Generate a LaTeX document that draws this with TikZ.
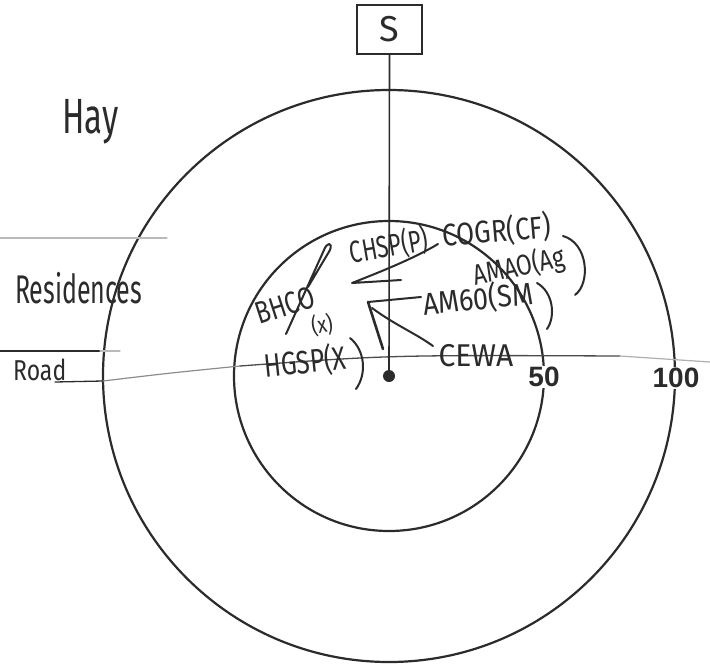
\documentclass[tikz,border=0pt]{standalone}
\usepackage{fontspec}
\usepackage{graphicx}
\newfontfamily\numfont{Liberation Sans}
\newfontfamily\handfont{Fira Sans}
\definecolor{inkc}{HTML}{2B2B2B}
\definecolor{roadc}{HTML}{8C8C8C}
\newcommand{\hwtxt}[3]{\fontsize{#1}{#1}\selectfont\scalebox{1}[#2]{#3}}
\tikzset{
  ring/.style={draw=inkc, line width=2.2pt},
  ink/.style={draw=inkc, line width=2pt, line cap=round, line join=round},
  thinline/.style={draw=inkc, line width=1.3pt, line cap=round},
  faint/.style={draw=roadc, line width=1.2pt, line cap=round},
  hand/.style={text=inkc, inner sep=0pt, font=\handfont},
  dist/.style={text=inkc, inner sep=1pt, fill=white, font=\numfont\bfseries\fontsize{28}{28}\selectfont},
}
\begin{document}
\begin{tikzpicture}[x=1pt,y=-1pt]
\useasboundingbox (0,0) rectangle (710,667);
\fill[white] (0,0) rectangle (710,667);

% rings
\coordinate (c) at (389,376);
\draw[ring] (c) circle [radius=286pt];
\draw[ring] (c) circle [radius=155pt];

% side lines
\coordinate (rl1) at (0,238);
\coordinate (rl2) at (167,238);
\draw[faint, draw=roadc!60] (rl1) -- (rl2);
\coordinate (rs1) at (0,351);
\coordinate (rs2) at (100,351);
\coordinate (rs3) at (120,351);
\draw[thinline] (rs1) -- (rs2);
\draw[faint, draw=roadc!60] (rs2) -- (rs3);

% road
\coordinate (rd0) at (55,382);
\coordinate (rd1) at (103,381);
\coordinate (rd2) at (240,366);
\coordinate (rd3) at (620,356);
\coordinate (rd4) at (710,362);
\draw[thinline] (rd0) -- (rd1);
\draw[faint] (rd1) .. controls (170,373) .. (rd2);
\draw[thinline, draw=inkc!85] (rd2) .. controls (390,355) .. (rd3);
\draw[faint, draw=roadc!70] (rd3) -- (rd4);

% source box and line
\node[draw=inkc, line width=2pt, minimum width=65pt, minimum height=49pt, inner sep=0pt,
      font=\handfont\fontsize{36}{36}\selectfont, text=inkc] (src) at (389.5,29.5) {S};
\node[circle, fill=inkc, inner sep=0pt, minimum size=12pt] (dot) at (c) {};
\draw[inkc, line width=1.6pt] (src.south) -- (dot.center);

% handwritten labels
\node[hand, anchor=base west] (hay) at (62,133) {\hwtxt{33}{1.5}{Hay}};
\node[hand, anchor=base west] (res) at (15,303) {\hwtxt{25}{1.6}{Residences}};
\node[hand, anchor=base west] (road) at (13,380) {\hwtxt{23}{1.25}{Road}};

\node[hand, rotate=10] (chsp) at (389,246) {\hwtxt{22}{1.4}{CHSP(P)}};
\node[hand, rotate=5] (cogr) at (497,231) {\hwtxt{26}{1.2}{COGR(CF)}};
\node[hand, rotate=12] (amao) at (519,267) {\hwtxt{23}{1.25}{AMAO(Ag}};
\node[hand, rotate=6] (am60) at (478,299) {\hwtxt{27}{1.15}{AM60(SM}};
\node[hand, rotate=18] (bhco) at (285,305) {\hwtxt{24}{1.3}{BHCO}};
\node[hand, rotate=10] (bhx) at (322,325) {\hwtxt{19}{1.2}{(x)}};
\node[hand, rotate=6] (hgsp) at (305,362) {\hwtxt{25}{1.3}{HGSP(X}};
\node[hand] (cewa) at (476,356) {\hwtxt{30}{1.05}{CEWA}};

% distance labels
\node[dist] (d50) at (544,377) {50};
\node[dist] (d100) at (676,378) {100};

% strokes
\coordinate (z1) at (438,244);
\coordinate (z2) at (352,283);
\coordinate (z3) at (401,280);
\draw[ink] (z1) .. controls (415,258) and (380,272) .. (z2) -- (z3);

\coordinate (t1) at (368,302);
\coordinate (t2) at (421,297);
\draw[ink] (t1) -- (t2);
\coordinate (t3) at (383,349);
\draw[ink, line width=2.6pt] (t1) -- (t3);
\coordinate (t4) at (372,308);
\coordinate (t5) at (433,346);
\draw[ink] (t4) .. controls (395,325) and (415,333) .. (t5);

\coordinate (b1) at (286,334);
\coordinate (b2) at (324,250);
\coordinate (b3) at (330,250);
\coordinate (b4) at (308,287);
\draw[ink] (b1) -- (b2) .. controls (327,242) and (333,242) .. (b3) -- (b4);

% big brackets
\coordinate (p1) at (350,338);
\coordinate (p2) at (356,389);
\draw[ink] (p1) .. controls (365,350) and (367,374) .. (p2);
\coordinate (p3) at (537,283);
\coordinate (p4) at (547,329);
\draw[ink] (p3) .. controls (553,292) and (556,316) .. (p4);
\coordinate (p5) at (563,236);
\coordinate (p6) at (575,295);
\draw[ink] (p5) .. controls (588,243) and (591,283) .. (p6);
\end{tikzpicture}
\end{document}
